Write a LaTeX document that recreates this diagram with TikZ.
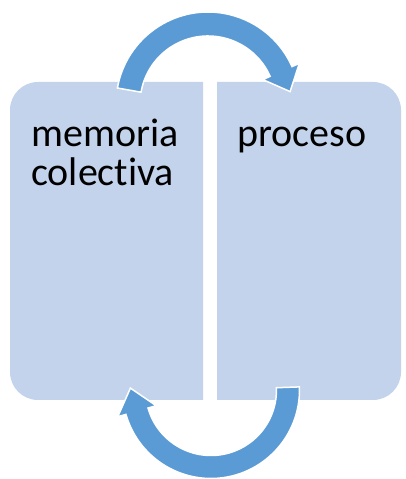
\documentclass[tikz,border=0pt]{standalone}
\usepackage{fontspec}
\setmainfont{Carlito}[Ligatures=NoCommon]
\usetikzlibrary{calc}
\definecolor{boxcol}{HTML}{C2D3EB}
\definecolor{arrowcol}{HTML}{5B9BD5}
\tikzset{
  boxfill/.style={fill=boxcol},
  cyclearrow/.style={fill=arrowcol, draw=white, line width=1.5pt, line join=miter},
  label text/.style={anchor=base west, inner sep=0pt, font=\fontsize{40}{40}\selectfont, text=black}
}
\begin{document}
\begin{tikzpicture}[x=1pt,y=1pt]
\useasboundingbox (0,0) rectangle (406,479);
% boxes
\fill[boxfill] (203,79) -- (38,79) arc[start angle=270, end angle=180, radius=28]
  -- (10,369) arc[start angle=180, end angle=90, radius=28] -- (203,397) -- cycle;
\fill[boxfill] (217,79) -- (373,79) arc[start angle=270, end angle=360, radius=28]
  -- (401,369) arc[start angle=0, end angle=90, radius=28] -- (217,397) -- cycle;
% top arrow
\coordinate (tc) at (208,375);
\coordinate (ttip) at (290.1,387.4);
\draw[cyclearrow] ($(tc)+(170:92)$) arc[start angle=170, end angle=24, radius=92]
  -- ($(tc)+(24:100)$) -- (ttip) -- ($(tc)+(24:60)$) -- ($(tc)+(24:68)$)
  arc[start angle=24, end angle=170, radius=68] -- cycle;
% bottom arrow
\coordinate (bc) at (211,89);
\coordinate (btip) at (130.4,90.9);
\draw[cyclearrow] ($(bc)+(2:88.5)$) arc[start angle=2, end angle=-164, radius=88.5]
  -- ($(bc)+(-164:97)$) -- (btip) -- ($(bc)+(-164:57)$) -- ($(bc)+(-164:65.5)$)
  arc[start angle=-164, end angle=2, radius=65.5] -- cycle;
% texts
\node[label text] (t1) at (31,332) {memoria};
\node[label text] (t2) at (31,293) {colectiva};
\node[label text] (t3) at (237,332) {proceso};
\end{tikzpicture}
\end{document}
